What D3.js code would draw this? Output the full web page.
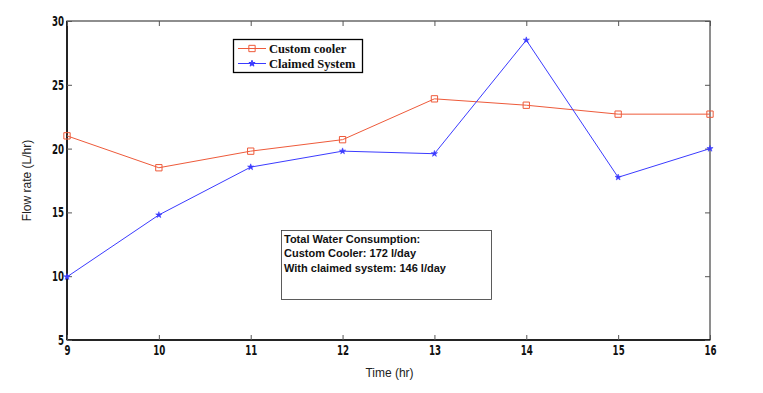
<!DOCTYPE html>
<html><head><meta charset="utf-8">
<script src="https://cdn.jsdelivr.net/npm/d3@7"></script>
<style>body{margin:0;background:#fff;}svg{display:block;}</style>
</head><body>
<script>
const hours = [9, 10, 11, 12, 13, 14, 15, 16];
const customCooler = [21.0, 18.5, 19.8, 20.7, 23.9, 23.4, 22.7, 22.7];
const claimedSystem = [9.95, 14.8, 18.55, 19.8, 19.6, 28.5, 17.75, 20.0];
const yTicks = [5, 10, 15, 20, 25, 30];
const seriesNames = ["Custom cooler", "Claimed System"];
const noteLines = ["Total Water Consumption:", "Custom Cooler: 172 l/day", "With claimed system: 146 l/day"];

const W = 763, H = 393;
const m = {l: 67, r: 53, t: 21, b: 53};
const svg = d3.select("body").append("svg").attr("width", W).attr("height", H);
const x = d3.scaleLinear().domain([9, 16]).range([m.l, W - m.r]);
const y = d3.scaleLinear().domain([5, 30]).range([H - m.b, m.t]);

const red = "#ee5a3a", blue = "#3b3bff";
const tickFont = "'DejaVu Sans',sans-serif";

// frame
svg.append("rect").attr("x", x(9)).attr("y", y(30)).attr("width", x(16) - x(9)).attr("height", y(5) - y(30))
  .attr("fill", "none").attr("stroke", "#444").attr("stroke-width", 1.2);
svg.append("line").attr("x1", x(9)).attr("x2", x(9)).attr("y1", y(30)).attr("y2", y(5)).attr("stroke", "#000").attr("stroke-width", 1.5);
svg.append("line").attr("x1", x(9)).attr("x2", x(16)).attr("y1", y(5)).attr("y2", y(5)).attr("stroke", "#000").attr("stroke-width", 1.5);

// axes
const xAxisB = d3.axisBottom(x).tickValues(hours).tickSize(-5).tickPadding(5).tickFormat(d3.format("d"));
const xAxisT = d3.axisTop(x).tickValues(hours).tickSize(-5).tickFormat("");
const yAxisL = d3.axisLeft(y).tickValues(yTicks).tickSize(-5).tickPadding(3).tickFormat(d3.format("d"));
const yAxisR = d3.axisRight(y).tickValues(yTicks).tickSize(-5).tickFormat("");
function style(g) {
  g.select(".domain").remove();
  g.selectAll(".tick line").attr("stroke", "#555");
  g.selectAll(".tick text").attr("font-family", tickFont).attr("font-size", 14).attr("font-weight", "bold")
    .attr("fill", "#111");
}
svg.append("g").attr("transform", `translate(0,${y(5)})`).call(xAxisB).call(style)
  .selectAll(".tick text").attr("transform", "scale(0.62,1)");
svg.append("g").attr("transform", `translate(0,${y(30)})`).call(xAxisT).call(style);
svg.append("g").attr("transform", `translate(${x(9)},0)`).call(yAxisL).call(style)
  .selectAll(".tick text").attr("x", -3 / 0.62).attr("transform", "scale(0.62,1)");
svg.append("g").attr("transform", `translate(${x(16)},0)`).call(yAxisR).call(style);

// axis labels
svg.append("text").attr("x", x(12.5) + 1).attr("y", 377).attr("text-anchor", "middle")
  .attr("font-family", "Arial, 'Liberation Sans', sans-serif").attr("font-size", 12).attr("fill", "#222").text("Time (hr)");
svg.append("text").attr("transform", `translate(31,${(y(5) + y(30)) / 2}) rotate(-90)`).attr("text-anchor", "middle")
  .attr("font-family", "Arial, 'Liberation Sans', sans-serif").attr("font-size", 12).attr("fill", "#222").text("Flow rate (L/hr)");

// lines
const line = d3.line().x((d, i) => x(hours[i])).y(d => y(d));
svg.append("path").datum(customCooler).attr("d", line).attr("fill", "none").attr("stroke", red).attr("stroke-width", 1);
svg.append("path").datum(claimedSystem).attr("d", line).attr("fill", "none").attr("stroke", blue).attr("stroke-width", 1);

const sq = d3.symbol().type(d3.symbolSquare).size(40);
const star = d3.symbol().type(d3.symbolStar).size(12);
svg.append("g").selectAll("path").data(customCooler).join("path")
  .attr("transform", (d, i) => `translate(${x(hours[i])},${y(d)})`).attr("d", sq)
  .attr("fill", "none").attr("stroke", red).attr("stroke-width", 1);
svg.append("g").selectAll("path").data(claimedSystem).join("path")
  .attr("transform", (d, i) => `translate(${x(hours[i])},${y(d)})`).attr("d", star)
  .attr("fill", blue).attr("stroke", blue).attr("stroke-width", 0.6);

// legend
const lg = svg.append("g");
lg.append("rect").attr("x", 233.5).attr("y", 39.5).attr("width", 129).attr("height", 33)
  .attr("fill", "#fff").attr("stroke", "#000").attr("stroke-width", 1.3);
[[red, sq, "none"], [blue, star, blue]].forEach(([c, sym, fill], i) => {
  const yy = 48.5 + i * 15;
  lg.append("line").attr("x1", 238).attr("x2", 266).attr("y1", yy).attr("y2", yy).attr("stroke", c);
  lg.append("path").attr("transform", `translate(252,${yy})`).attr("d", sym).attr("fill", fill).attr("stroke", c);
  lg.append("text").attr("x", 269).attr("y", yy + 4.5).attr("font-family", "'Liberation Serif','Times New Roman',serif")
    .attr("font-weight", "bold").attr("font-size", 12.5).attr("fill", "#111").text(seriesNames[i]);
});

// note box
const nb = svg.append("g");
nb.append("rect").attr("x", 281.5).attr("y", 230.5).attr("width", 210).attr("height", 69)
  .attr("fill", "#fff").attr("stroke", "#333").attr("stroke-width", 0.8);
noteLines.forEach((t, i) => {
  nb.append("text").attr("x", 284).attr("y", 242.5 + i * 14.8).attr("font-family", "Arial, 'Liberation Sans', sans-serif")
    .attr("font-weight", "bold").attr("font-size", 11).attr("fill", "#111").text(t);
});
</script>
</body></html>
